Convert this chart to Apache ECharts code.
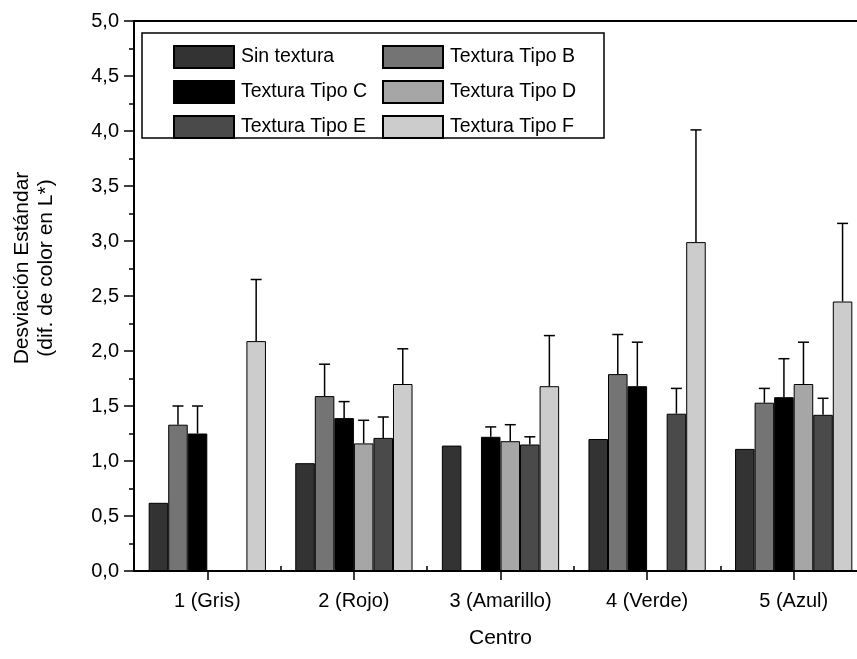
<!DOCTYPE html>
<html>
<head>
<meta charset="utf-8">
<script src="https://cdn.jsdelivr.net/npm/echarts@6/dist/echarts.min.js"></script>
<style>
html,body{margin:0;padding:0;background:#fff;}
#chart{width:857px;height:659px;}
</style>
</head>
<body>
<div id="chart"></div>
<script>
// ---- data ----
const categories = ['1 (Gris)', '2 (Rojo)', '3 (Amarillo)', '4 (Verde)', '5 (Azul)'];
const seriesNames = ['Sin textura', 'Textura Tipo B', 'Textura Tipo C', 'Textura Tipo D', 'Textura Tipo E', 'Textura Tipo F'];
const yTicks = [0, 0.5, 1, 1.5, 2, 2.5, 3, 3.5, 4, 4.5, 5];

const sinTextura = [0.62, 0.98, 1.14, 1.20, 1.11];
const tipoB      = [1.33, 1.59, null, 1.79, 1.53];
const tipoC      = [1.25, 1.39, 1.22, 1.68, 1.58];
const tipoD      = [null, 1.16, 1.18, null, 1.70];
const tipoE      = [null, 1.21, 1.15, 1.43, 1.42];
const tipoF      = [2.09, 1.70, 1.68, 2.99, 2.45];

// upper standard deviations (error bars)
const errSin = [null, null, null, null, null];
const errB   = [0.17, 0.29, null, 0.36, 0.13];
const errC   = [0.25, 0.15, 0.09, 0.40, 0.35];
const errD   = [null, 0.21, 0.15, null, 0.38];
const errE   = [null, 0.19, 0.07, 0.23, 0.15];
const errF   = [0.56, 0.32, 0.46, 1.02, 0.71];

const values = [sinTextura, tipoB, tipoC, tipoD, tipoE, tipoF];
const errors = [errSin, errB, errC, errD, errE, errF];
const colors = ['#333333', '#747474', '#000000', '#a6a6a6', '#4a4a4a', '#cccccc'];

const FONT = '"Liberation Sans", Arial, Helvetica, sans-serif';
const nSeries = seriesNames.length;
const catGap = 0.2;

const barSeries = seriesNames.map((name, i) => ({
  type: 'bar',
  name: name,
  data: values[i],
  barGap: '0%',
  barCategoryGap: (catGap * 100) + '%',
  itemStyle: { color: colors[i], borderColor: '#000', borderWidth: 1 },
  emphasis: { disabled: true },
  z: 2
}));

const errSeries = seriesNames.map((name, si) => ({
  type: 'custom',
  name: name + ' error',
  z: 5,
  silent: true,
  encode: { x: 0, y: 1 },
  data: categories.map((c, i) => [i, values[si][i], errors[si][i]])
    .filter(d => d[1] != null && d[2] != null),
  renderItem: function (params, api) {
    const ci = api.value(0), v = api.value(1), e = api.value(2);
    const base = api.coord([ci, v]);
    const top = api.coord([ci, v + e]);
    const band = api.size([1, 0])[0];
    const bw = band * (1 - catGap) / nSeries;
    const x = base[0] - band * (1 - catGap) / 2 + (si + 0.5) * bw;
    const cap = 5.5;
    return {
      type: 'group',
      children: [
        { type: 'line', shape: { x1: x, y1: base[1], x2: x, y2: top[1] }, style: { stroke: '#000', lineWidth: 1.5 } },
        { type: 'line', shape: { x1: x - cap, y1: top[1], x2: x + cap, y2: top[1] }, style: { stroke: '#000', lineWidth: 1.5 } }
      ]
    };
  }
}));

const legendCommon = {
  orient: 'vertical',
  top: 45,
  padding: 0,
  itemWidth: 60,
  itemHeight: 22,
  itemGap: 11,
  icon: 'rect',
  selectedMode: false,
  textStyle: { fontSize: 19.5, color: '#000', fontFamily: FONT, padding: [0, 0, 0, 2] }
};

const option = {
  animation: false,
  backgroundColor: '#fff',
  textStyle: { fontFamily: FONT },
  grid: {
    left: 134, top: 21, width: 733, height: 550,
    containLabel: false,
    outerBoundsMode: 'none',
    show: true, borderColor: '#000', borderWidth: 2, backgroundColor: 'transparent'
  },
  legend: [
    Object.assign({}, legendCommon, { left: 173, data: ['Sin textura', 'Textura Tipo C', 'Textura Tipo E'] }),
    Object.assign({}, legendCommon, { left: 382, data: ['Textura Tipo B', 'Textura Tipo D', 'Textura Tipo F'] })
  ],
  graphic: [{
    type: 'rect',
    shape: { x: 142, y: 33, width: 462, height: 105 },
    style: { fill: 'none', stroke: '#000', lineWidth: 1.5 },
    z: 10
  }],
  xAxis: [{
    type: 'category',
    data: categories,
    position: 'bottom',
    boundaryGap: true,
    axisLine: { show: true, lineStyle: { color: '#000', width: 2 } },
    axisTick: { show: true, alignWithLabel: true, length: 9, lineStyle: { color: '#000', width: 1.5 } },
    axisLabel: { fontSize: 20, color: '#000', margin: 20, fontFamily: FONT },
    splitLine: { show: false },
    name: 'Centro',
    nameLocation: 'middle',
    nameGap: 57,
    nameTextStyle: { fontSize: 21, color: '#000', fontFamily: FONT }
  }, {
    type: 'category',
    data: categories,
    position: 'bottom',
    gridIndex: 0,
    boundaryGap: true,
    axisLine: { show: false },
    axisTick: { show: true, inside: true, length: 5, lineStyle: { color: '#000', width: 1.5 } },
    axisLabel: { show: false },
    splitLine: { show: false }
  }],
  yAxis: {
    type: 'value',
    min: yTicks[0],
    max: yTicks[yTicks.length - 1],
    interval: yTicks[1] - yTicks[0],
    axisLine: { show: true, lineStyle: { color: '#000', width: 2 } },
    axisTick: { show: true, length: 10, lineStyle: { color: '#000', width: 1.5 } },
    minorTick: { show: true, splitNumber: 2, length: 5, lineStyle: { color: '#000', width: 1.5 } },
    splitLine: { show: false },
    axisLabel: {
      fontSize: 20, color: '#000', margin: 15, fontFamily: FONT,
      formatter: v => v.toFixed(1).replace('.', ',')
    },
    name: 'Desviación Estándar\n(dif. de color en L*)',
    nameLocation: 'middle',
    nameGap: 76,
    nameTextStyle: { fontSize: 21, lineHeight: 24, color: '#000', fontFamily: FONT, padding: [0, 0, 0, 56] }
  },
  series: barSeries.concat(errSeries)
};

const chart = echarts.init(document.getElementById('chart'), null, { renderer: 'canvas' });
chart.setOption(option);
</script>
</body>
</html>
